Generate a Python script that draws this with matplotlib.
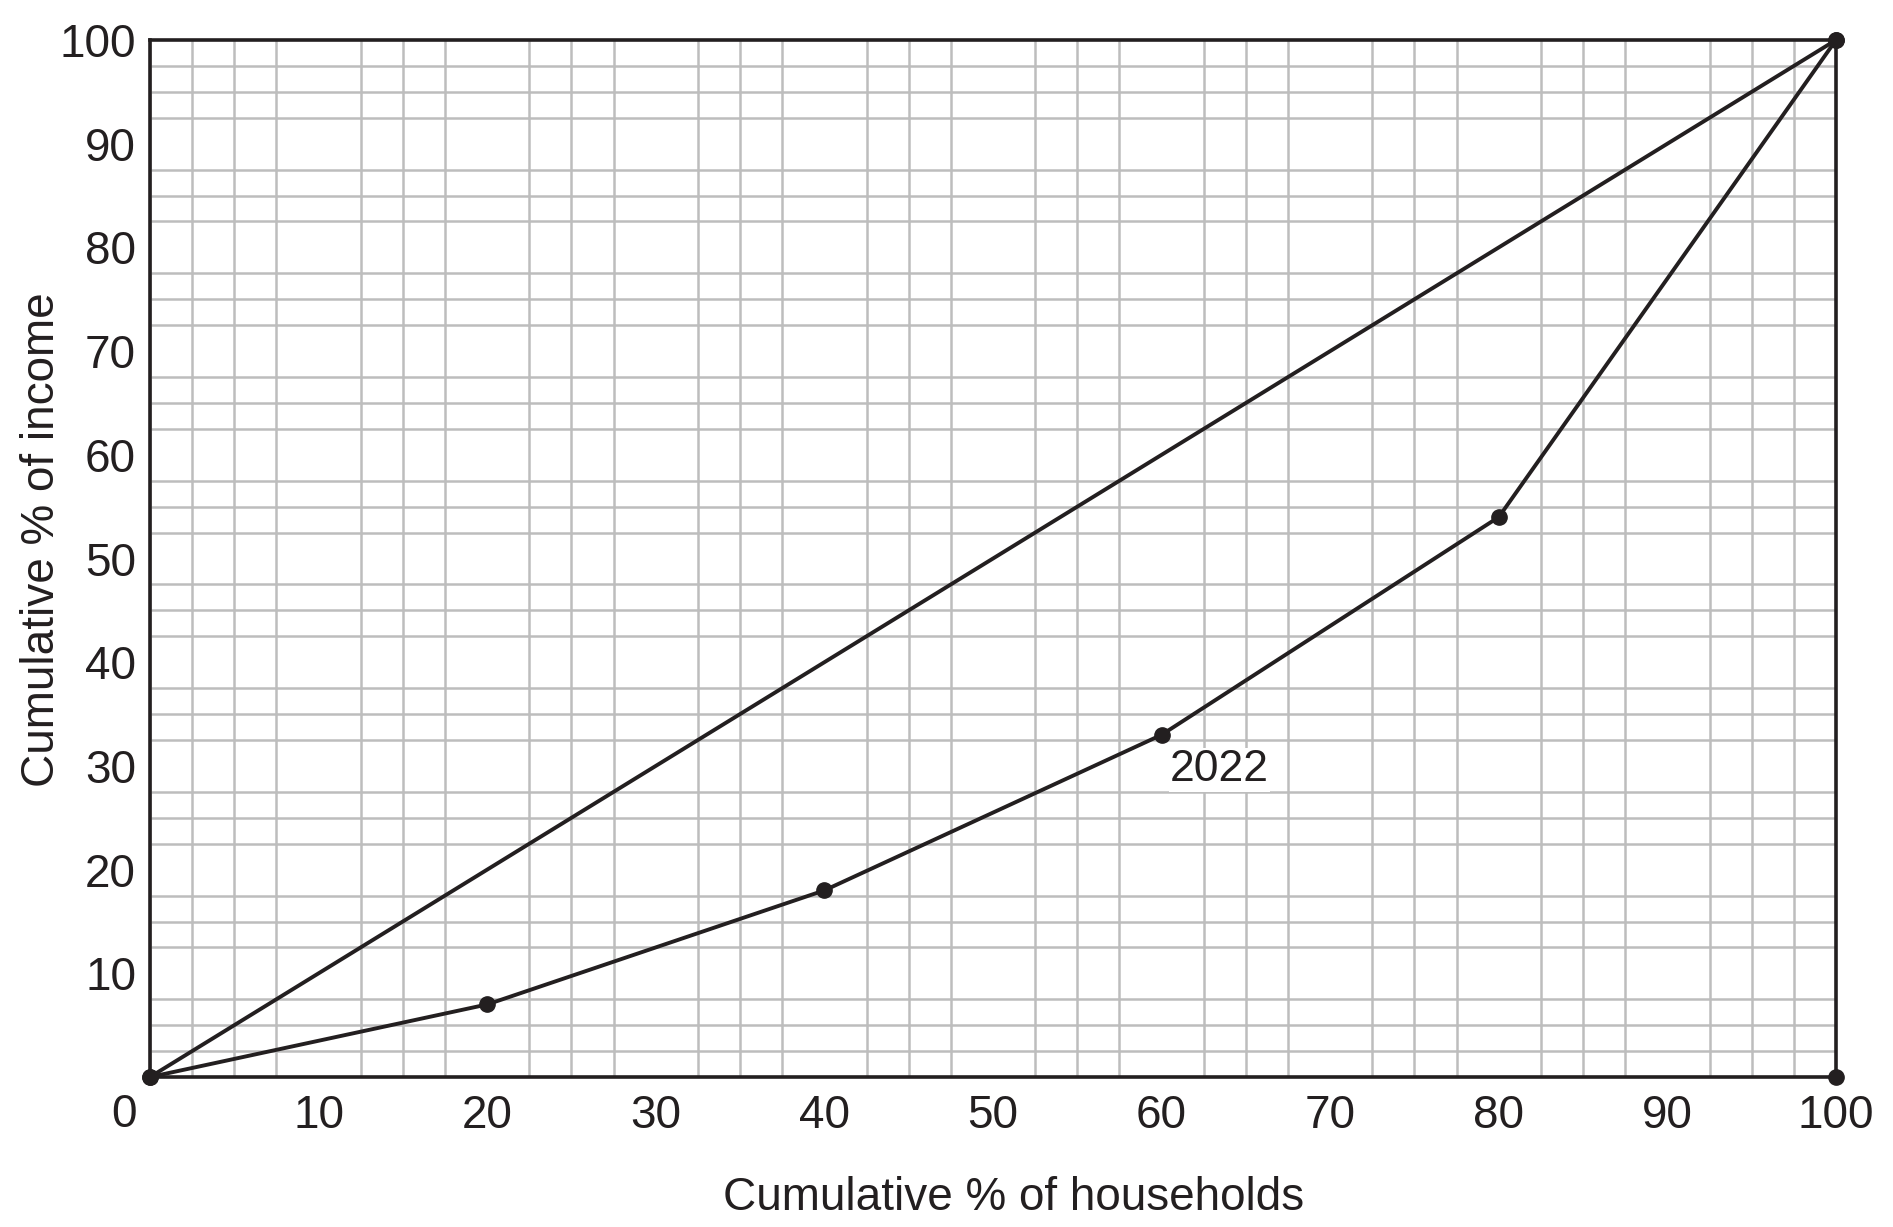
import matplotlib.pyplot as plt
import numpy as np

plt.rcParams['font.family'] = ['Liberation Sans', 'DejaVu Sans']

# Lorenz curve data
households = [0, 20, 40, 60, 80, 100]
income_2022 = [0, 7, 18, 33, 54, 100]
equality_x = [0, 100]
equality_y = [0, 100]
corner_x = [100]
corner_y = [0]
xticks = [10, 20, 30, 40, 50, 60, 70, 80, 90, 100]
yticks = [10, 20, 30, 40, 50, 60, 70, 80, 90, 100]

ink = '#231f20'

fig = plt.figure(figsize=(18.93, 12.27), dpi=100)
ax = fig.add_axes([0.0792, 0.1222, 0.8907, 0.8452])

ax.set_xlim(0, 100)
ax.set_ylim(0, 100)

grid = np.arange(0, 100.1, 2.5)
ax.set_xticks(grid, minor=True)
ax.set_yticks(grid, minor=True)
ax.grid(which='minor', color='#bdbdbd', linewidth=1.8)
ax.set_axisbelow(True)

ax.plot(equality_x, equality_y, color=ink, linewidth=2.8, marker='o', markersize=11, clip_on=False, zorder=3)
ax.plot(households, income_2022, color=ink, linewidth=2.8, marker='o', markersize=11, clip_on=False, zorder=3)
ax.plot(corner_x, corner_y, color=ink, marker='o', markersize=11, linestyle='none', clip_on=False, zorder=3)

ax.text(60.5, 28.5, '2022', fontsize=32, color=ink, ha='left', va='baseline',
        bbox=dict(facecolor='white', edgecolor='none', pad=1), zorder=2)

ax.set_xticks(xticks)
ax.set_yticks(yticks)
ax.tick_params(which='both', length=0, labelsize=33, colors=ink)
ax.tick_params(axis='x', pad=12)
ax.tick_params(axis='y', pad=10)
ax.text(-1.55, -1.5, '0', fontsize=33, color=ink, ha='center', va='top', transform=ax.transData)

for s in ax.spines.values():
    s.set_color(ink)
    s.set_linewidth(2.6)

ax.set_xlabel('Cumulative % of households', fontsize=33, color=ink)
ax.set_ylabel('Cumulative % of income', fontsize=33, color=ink)
ax.xaxis.set_label_coords(0.512, -0.095)
ax.yaxis.set_label_coords(-0.051, 0.518)

fig.savefig('out.png', dpi=100)
